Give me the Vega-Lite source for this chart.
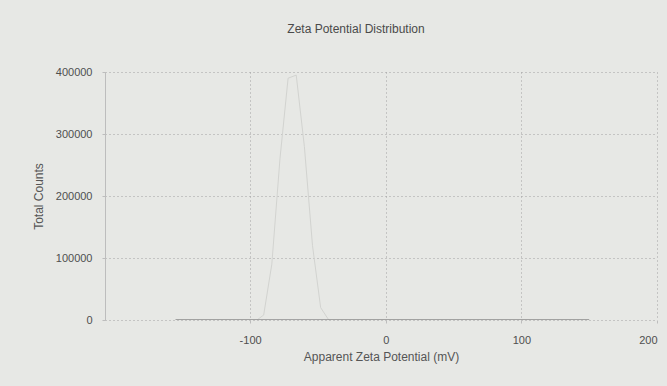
{
  "$schema": "https://vega.github.io/schema/vega-lite/v6.json",
  "width": 552,
  "height": 248,
  "autosize": {"type": "none"},
  "padding": {"left": 105, "top": 72, "right": 10, "bottom": 66},
  "background": "#e7e8e5",
  "title": {
    "text": "Zeta Potential Distribution",
    "fontSize": 12,
    "font": "Liberation Sans",
    "fontWeight": "normal",
    "color": "#4a4a4a",
    "anchor": "middle",
    "offset": 30,
    "dx": -25
  },
  "config": {
    "view": {"stroke": null},
    "axis": {
      "labelFont": "Liberation Sans",
      "titleFont": "Liberation Sans",
      "labelColor": "#4f4f4f",
      "titleColor": "#555555",
      "labelFontSize": 11,
      "titleFontSize": 12,
      "titleFontWeight": "normal",
      "gridColor": "#a0a0a0",
      "gridDash": [1, 3],
      "gridWidth": 1,
      "gridOpacity": 1,
      "domainColor": "#bdbdbd",
      "tickColor": "#bdbdbd",
      "tickSize": 3,
      "labelExpr": "datum.value + ''"
    }
  },
  "data": {
    "values": [
      {"zeta": -155, "counts": 0},
      {"zeta": -120, "counts": 0},
      {"zeta": -95, "counts": 0},
      {"zeta": -90, "counts": 8000},
      {"zeta": -84, "counts": 90000},
      {"zeta": -78, "counts": 260000},
      {"zeta": -72, "counts": 390000},
      {"zeta": -66, "counts": 395000},
      {"zeta": -60, "counts": 280000},
      {"zeta": -54, "counts": 120000},
      {"zeta": -48, "counts": 20000},
      {"zeta": -42, "counts": 0},
      {"zeta": 0, "counts": 0},
      {"zeta": 50, "counts": 0},
      {"zeta": 100, "counts": 0},
      {"zeta": 150, "counts": 0}
    ]
  },
  "encoding": {
    "x": {
      "field": "zeta",
      "type": "quantitative",
      "scale": {"domain": [-207, 200], "nice": false, "zero": false},
      "axis": {
        "title": "Apparent Zeta Potential (mV)",
        "values": [-100, 0, 100, 200],
        "grid": true,
        "domain": false,
        "labelPadding": 11,
        "titlePadding": 6
      }
    },
    "y": {
      "field": "counts",
      "type": "quantitative",
      "scale": {"domain": [0, 400000], "nice": false},
      "axis": {
        "title": "Total Counts",
        "values": [0, 100000, 200000, 300000, 400000],
        "grid": true,
        "domain": true,
        "labelPadding": 10,
        "titlePadding": 10
      }
    }
  },
  "layer": [
    {
      "mark": {"type": "line", "color": "#d2d3d0", "strokeWidth": 1, "clip": true}
    },
    {
      "transform": [{"filter": "datum.counts == 0"}],
      "mark": {"type": "line", "color": "#8e8e8e", "strokeWidth": 1.5, "clip": true}
    }
  ]
}
